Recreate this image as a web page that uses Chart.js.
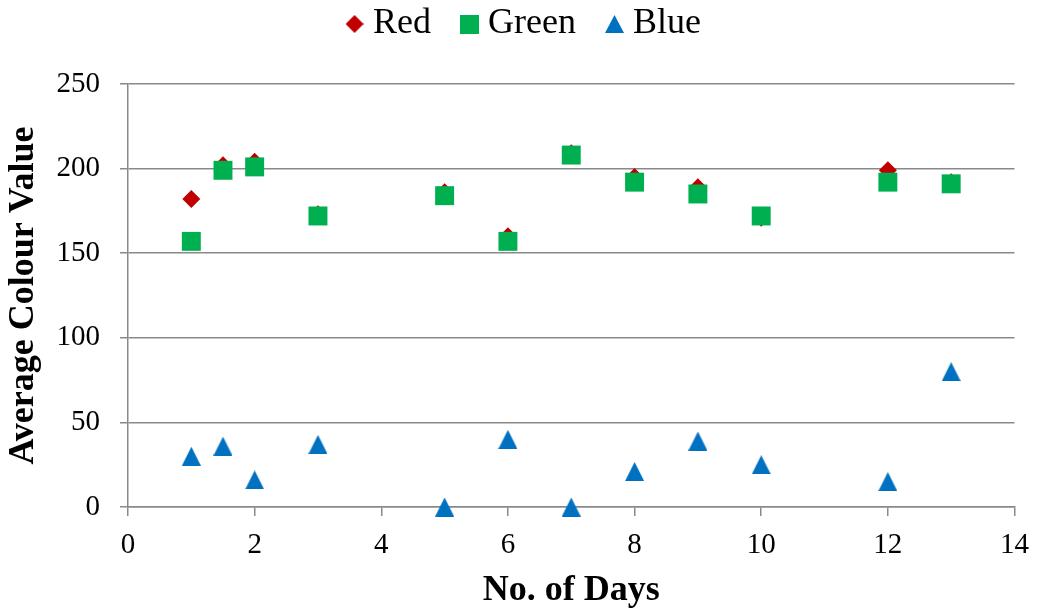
<!DOCTYPE html>
<html>
<head>
<meta charset="utf-8">
<script src="https://cdn.jsdelivr.net/npm/chart.js@4"></script>
<style>
  html, body { margin: 0; padding: 0; background: #fff; }
  canvas { display: block; }
</style>
</head>
<body>
<canvas id="chart" width="1041" height="615"></canvas>
<script>
// days sampled
var days = [1, 1.5, 2, 3, 5, 6, 7, 8, 9, 10, 12, 13];
// average colour value per channel
var redValues = [182, 202, 204, 173, 186, 160, 209, 195, 189, 171, 199, 192];
var greenValues = [157, 199, 201, 172, 184, 157, 208, 192, 185, 172, 192, 191];
var blueValues = [30, 36, 16, 37, 0, 40, 0, 21, 39, 25, 15, 80];
var seriesNames = ['Red', 'Green', 'Blue'];
var xTitle = 'No. of Days';
var yTitle = 'Average Colour Value';

var RED = '#C00000', GREEN = '#00B050', BLUE = '#0070C0';
var GRID = '#898989';
var FONT = "'Liberation Serif', 'Times New Roman', serif";

var toPoints = function (ys) {
    return days.map(function (d, i) { return { x: d, y: ys[i] }; });
};

// small canvases for markers that Chart.js does not draw in the right shape
var makeMark = function (w, h, color, draw) {
    var c = document.createElement('canvas');
    c.width = w;
    c.height = h;
    var ctx = c.getContext('2d');
    ctx.fillStyle = color;
    ctx.beginPath();
    draw(ctx, w, h);
    ctx.closePath();
    ctx.fill();
    return c;
};
var triangle = function (ctx, w, h) {
    ctx.moveTo(w / 2, 0);
    ctx.lineTo(w, h);
    ctx.lineTo(0, h);
};
var diamond = function (ctx, w, h) {
    ctx.moveTo(w / 2, 0);
    ctx.lineTo(w, h / 2);
    ctx.lineTo(w / 2, h);
    ctx.lineTo(0, h / 2);
};
var square = function (ctx, w, h) {
    ctx.rect(0, 0, w, h);
};

var blueMark = makeMark(19, 19, BLUE, triangle);
var legendMarks = [
    makeMark(18, 18, RED, diamond),
    makeMark(19, 19, GREEN, square),
    makeMark(19, 18, BLUE, triangle)
];

new Chart(document.getElementById('chart').getContext('2d'), {
    type: 'scatter',
    data: {
        datasets: [
            {
                label: seriesNames[0],
                data: toPoints(redValues),
                backgroundColor: RED,
                borderColor: RED,
                borderWidth: 0,
                pointStyle: 'rectRot',
                pointRadius: 9,
                clip: false,
                order: 1
            },
            {
                label: seriesNames[1],
                data: toPoints(greenValues),
                backgroundColor: GREEN,
                borderColor: GREEN,
                borderWidth: 0,
                pointStyle: 'rect',
                pointRadius: 13.4,
                clip: false,
                order: 0
            },
            {
                label: seriesNames[2],
                data: toPoints(blueValues),
                backgroundColor: BLUE,
                borderColor: BLUE,
                borderWidth: 0,
                pointStyle: blueMark,
                pointRadius: 10,
                clip: false,
                order: 2
            }
        ]
    },
    options: {
        responsive: false,
        animation: false,
        devicePixelRatio: 1,
        layout: { padding: { top: -32, left: 36, right: 22, bottom: 0 } },
        plugins: {
            tooltip: { enabled: false },
            legend: {
                position: 'top',
                align: 'center',
                labels: {
                    usePointStyle: true,
                    boxWidth: 1,
                    padding: 38,
                    color: '#000',
                    font: { family: FONT, size: 36 },
                    generateLabels: function (chart) {
                        return chart.data.datasets.map(function (ds, i) {
                            return {
                                text: ds.label,
                                fillStyle: ds.backgroundColor,
                                strokeStyle: ds.backgroundColor,
                                lineWidth: 0,
                                pointStyle: legendMarks[i],
                                datasetIndex: i,
                                hidden: false
                            };
                        });
                    }
                }
            },
            // empty spacer between legend and plot
            subtitle: {
                display: true,
                text: '',
                weight: 500,
                font: { size: 10, lineHeight: 1 },
                padding: { top: 22, bottom: 0 }
            }
        },
        scales: {
            x: {
                type: 'linear',
                min: 0,
                max: 14,
                afterFit: function (scale) { scale.height = 108; },
                ticks: {
                    stepSize: 2,
                    padding: 12,
                    color: '#000',
                    font: { family: FONT, size: 29 }
                },
                grid: {
                    drawOnChartArea: false,
                    drawTicks: true,
                    tickLength: 9,
                    color: GRID,
                    lineWidth: 1.5
                },
                border: { display: true, color: GRID, width: 1.5 },
                title: {
                    display: true,
                    text: xTitle,
                    color: '#000',
                    font: { family: FONT, size: 36, weight: 'bold' },
                    padding: { top: 0, bottom: 3 }
                }
            },
            y: {
                type: 'linear',
                min: 0,
                max: 250,
                afterFit: function (scale) { scale.width = 92; },
                ticks: {
                    stepSize: 50,
                    padding: 20,
                    color: '#000',
                    font: { family: FONT, size: 29 }
                },
                grid: {
                    drawTicks: true,
                    tickLength: 8,
                    color: GRID,
                    lineWidth: 1.5
                },
                border: { display: true, color: GRID, width: 1.5 },
                title: {
                    display: true,
                    text: yTitle,
                    color: '#000',
                    font: { family: FONT, size: 36, weight: 'bold' },
                    padding: { top: -33.6, bottom: 0 }
                }
            }
        }
    }
});
</script>
</body>
</html>
